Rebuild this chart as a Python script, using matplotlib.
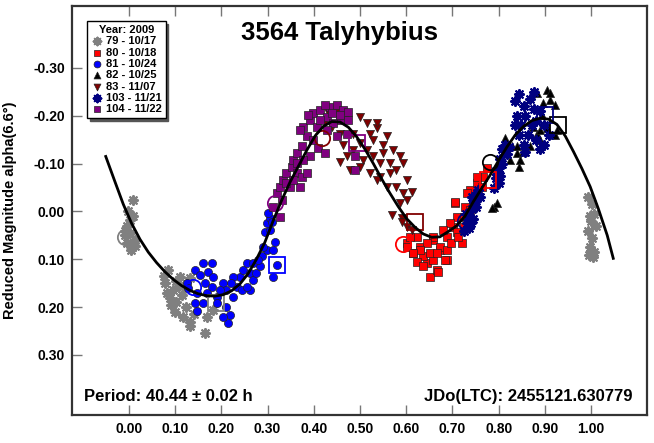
import matplotlib.pyplot as plt

plt.rcParams['font.family'] = ['Liberation Sans', 'DejaVu Sans']
plt.rcParams['font.weight'] = 'bold'

# phase, reduced magnitude
ph79 = [0.009, -0.001, 0.002, -0.003, -0.009, 0.002, 0.013, 0.013, 0.004, -0.008, 0.008, -0.005,
        0.110, 0.096, 0.103, 0.117, 0.132, 0.168, 0.164, 0.183, 0.103, 0.089, 0.078, 0.082,
        0.123, 0.114, 0.100, 0.132, 0.091, 0.076, 0.109, 0.121, 0.141, 0.085, 0.132,
        0.993, 1.002, 0.998, 1.007, 0.993, 1.002, 1.007, 0.998, 1.011, 0.996, 1.005, 1.000]
mag79 = [-0.025, 0.000, 0.017, 0.030, 0.040, 0.045, 0.060, 0.072, 0.080, 0.050, 0.010, 0.065,
         0.138, 0.164, 0.190, 0.220, 0.232, 0.220, 0.255, 0.207, 0.145, 0.180, 0.150, 0.170,
         0.200, 0.175, 0.210, 0.240, 0.195, 0.135, 0.155, 0.160, 0.215, 0.123, 0.140,
         -0.030, -0.015, 0.010, 0.005, 0.040, 0.055, 0.085, 0.075, 0.030, 0.090, 0.095, 0.020]

ph80 = [0.601, 0.615, 0.630, 0.644, 0.652, 0.666, 0.688, 0.673, 0.658, 0.688, 0.701, 0.709,
        0.706, 0.623, 0.608, 0.636, 0.601, 0.623, 0.669, 0.684, 0.720, 0.709, 0.706, 0.724,
        0.738, 0.753, 0.766, 0.774, 0.731, 0.745, 0.695, 0.680, 0.659, 0.644, 0.630, 0.615,
        0.673, 0.659, 0.637, 0.688, 0.698, 0.713, 0.724, 0.727, 0.738, 0.756, 0.763, 0.753,
        0.652, 0.666]
mag80 = [0.066, 0.087, 0.074, 0.108, 0.136, 0.122, 0.101, 0.080, 0.060, 0.053, 0.032, 0.011,
         -0.018, 0.053, 0.053, 0.094, 0.074, 0.105, 0.126, 0.101, 0.066, 0.042, -0.020, 0.011,
         -0.045, -0.059, -0.073, -0.090, -0.038, -0.024, 0.025, 0.039, 0.053, 0.066, 0.080, 0.087,
         0.074, 0.101, 0.115, 0.080, 0.066, 0.053, 0.032, -0.010, -0.003, -0.038, -0.052, -0.073,
         0.087, 0.087]

ph81 = [0.143, 0.154, 0.172, 0.182, 0.165, 0.179, 0.147, 0.143, 0.147, 0.161, 0.190, 0.204,
        0.211, 0.190, 0.211, 0.219, 0.215, 0.226, 0.233, 0.240, 0.247, 0.255, 0.262, 0.269,
        0.244, 0.262, 0.276, 0.284, 0.287, 0.298, 0.312, 0.291, 0.316, 0.294, 0.305, 0.298,
        0.305, 0.302, 0.309, 0.312, 0.179, 0.161, 0.125, 0.128, 0.197, 0.168, 0.226, 0.222,
        0.255, 0.269, 0.280, 0.204, 0.320]
mag81 = [0.122, 0.133, 0.126, 0.136, 0.150, 0.157, 0.171, 0.192, 0.209, 0.192, 0.178, 0.150,
         0.164, 0.192, 0.199, 0.216, 0.234, 0.178, 0.157, 0.136, 0.122, 0.108, 0.129, 0.143,
         0.164, 0.164, 0.129, 0.115, 0.094, 0.080, 0.080, 0.074, 0.063, 0.042, 0.039, 0.025,
         0.014, 0.004, 0.021, 0.136, 0.108, 0.108, 0.150, 0.161, 0.164, 0.171, 0.136, 0.150,
         0.157, 0.108, 0.101, 0.220, 0.112]

ph82 = [0.789, 0.796, 0.785, 0.814, 0.828, 0.839, 0.846, 0.843, 0.853, 0.868, 0.882, 0.890,
        0.875, 0.882, 0.904, 0.911, 0.922, 0.897, 0.911, 0.904, 0.922, 0.926, 0.890, 0.893,
        0.839, 0.825]
mag82 = [-0.010, -0.017, -0.007, -0.153, -0.136, -0.122, -0.108, -0.094, -0.125, -0.136, -0.163, -0.170,
         -0.177, -0.247, -0.254, -0.233, -0.223, -0.226, -0.247, -0.174, -0.160, -0.170, -0.149, -0.202,
         -0.136, -0.108]

ph83 = [0.428, 0.450, 0.471, 0.500, 0.515, 0.536, 0.558, 0.550, 0.572, 0.587, 0.594, 0.565,
        0.543, 0.529, 0.515, 0.500, 0.471, 0.457, 0.478, 0.500, 0.522, 0.543, 0.565, 0.579,
        0.601, 0.579, 0.558, 0.536, 0.594, 0.612, 0.601, 0.587, 0.569, 0.590, 0.601, 0.612,
        0.522, 0.529, 0.439, 0.457, 0.464, 0.485, 0.485, 0.424, 0.507, 0.550, 0.536, 0.590]
mag83 = [-0.212, -0.212, -0.202, -0.198, -0.184, -0.174, -0.157, -0.139, -0.129, -0.115, -0.101, -0.101,
         -0.101, -0.115, -0.129, -0.143, -0.115, -0.104, -0.087, -0.094, -0.080, -0.073, -0.080, -0.087,
         -0.066, -0.052, -0.052, -0.066, -0.038, -0.041, -0.024, -0.017, 0.007, 0.014, 0.032, 0.039,
         -0.163, -0.149, -0.177, -0.163, -0.139, -0.129, -0.163, -0.188, -0.108, -0.122, -0.184, 0.021]

ph103 = [0.726, 0.731, 0.736, 0.742, 0.747, 0.753, 0.756, 0.735, 0.745, 0.751, 0.729, 0.740, 0.760, 0.742,
         0.790, 0.795, 0.800, 0.804, 0.808, 0.813, 0.800, 0.808, 0.818, 0.795, 0.804, 0.822,
         0.836, 0.845, 0.854, 0.840, 0.849, 0.858, 0.867, 0.876, 0.881, 0.890, 0.863, 0.854,
         0.845, 0.872, 0.899, 0.908, 0.899, 0.881, 0.836, 0.890, 0.858, 0.876]
mag103 = [0.040, 0.025, 0.010, -0.005, -0.020, -0.035, -0.045, 0.035, 0.015, -0.010, 0.005, 0.025, -0.030, -0.030,
          -0.050, -0.070, -0.090, -0.110, -0.130, -0.140, -0.060, -0.100, -0.120, -0.085, -0.075, -0.135,
          -0.230, -0.245, -0.220, -0.200, -0.180, -0.200, -0.235, -0.215, -0.190, -0.210, -0.160, -0.140,
          -0.160, -0.180, -0.180, -0.160, -0.140, -0.150, -0.180, -0.130, -0.125, -0.250]

ph104 = [0.327, 0.320, 0.327, 0.334, 0.341, 0.352, 0.363, 0.374, 0.370, 0.348, 0.356, 0.363,
         0.374, 0.385, 0.377, 0.392, 0.399, 0.413, 0.428, 0.435, 0.450, 0.464, 0.475, 0.457,
         0.442, 0.406, 0.399, 0.410, 0.424, 0.450, 0.471, 0.489, 0.489, 0.392, 0.377, 0.363,
         0.341, 0.331, 0.356, 0.370, 0.388, 0.424, 0.439, 0.457, 0.475, 0.413, 0.428, 0.385, 0.312]
mag104 = [0.011, -0.038, -0.052, -0.066, -0.080, -0.094, -0.080, -0.073, -0.052, -0.052, -0.108, -0.122,
          -0.136, -0.157, -0.177, -0.191, -0.205, -0.212, -0.198, -0.219, -0.223, -0.212, -0.209, -0.191,
          -0.184, -0.177, -0.149, -0.132, -0.122, -0.157, -0.163, -0.115, -0.087, -0.115, -0.108, -0.101,
          -0.059, -0.024, -0.066, -0.170, -0.202, -0.223, -0.205, -0.202, -0.191, -0.191, -0.170, -0.080, -0.010]

# first / last point of each session (open circle / open square)
start_ph = [-0.009, 0.593, 0.139, 0.781, 0.417, 0.727, 0.316]
start_mag = [0.053, 0.067, 0.157, -0.104, -0.153, 0.020, -0.017]
end_ph = [0.188, 0.777, 0.320, 0.929, 0.619, 0.901, 0.493]
end_mag = [0.191, -0.066, 0.112, -0.181, 0.021, -0.202, -0.143]

fit_ph = [-0.050, -0.030, -0.012, 0.006, 0.024, 0.042, 0.060, 0.078, 0.096, 0.114, 0.132, 0.150,
          0.168, 0.186, 0.204, 0.222, 0.240, 0.258, 0.276, 0.294, 0.312, 0.330, 0.348, 0.367,
          0.385, 0.403, 0.421, 0.439, 0.457, 0.475, 0.493, 0.511, 0.529, 0.547, 0.565, 0.583,
          0.601, 0.619, 0.637, 0.655, 0.673, 0.691, 0.709, 0.727, 0.745, 0.763, 0.781, 0.799,
          0.818, 0.836, 0.854, 0.872, 0.890, 0.908, 0.926, 0.944, 0.962, 0.980, 0.998, 1.016,
          1.035, 1.048]
fit_mag = [-0.115, -0.062, -0.015, 0.025, 0.058, 0.085, 0.107, 0.126, 0.142, 0.155, 0.165, 0.172,
           0.176, 0.177, 0.174, 0.166, 0.152, 0.130, 0.100, 0.065, 0.020, -0.022, -0.060, -0.095,
           -0.128, -0.158, -0.178, -0.188, -0.187, -0.176, -0.156, -0.130, -0.100, -0.068, -0.038, -0.010,
           0.015, 0.033, 0.047, 0.054, 0.053, 0.042, 0.030, 0.010, -0.020, -0.048, -0.075, -0.105,
           -0.135, -0.160, -0.178, -0.190, -0.195, -0.193, -0.182, -0.158, -0.125, -0.090, -0.052, -0.005,
           0.050, 0.098]

labels = ['79 - 10/17', '80 - 10/18', '81 - 10/24', '82 - 10/25', '83 - 11/07', '103 - 11/21', '104 - 11/22']
phases = [ph79, ph80, ph81, ph82, ph83, ph103, ph104]
mags = [mag79, mag80, mag81, mag82, mag83, mag103, mag104]
xticks = [0.0, 0.1, 0.2, 0.3, 0.4, 0.5, 0.6, 0.7, 0.8, 0.9, 1.0]
yticks = [-0.3, -0.2, -0.1, 0.0, 0.1, 0.2, 0.3]

colors = ['#808080', '#ff0000', '#0000ff', '#000000', '#800000', '#000080', '#800080']
markers = [(8, 2, 0), 's', 'o', '^', 'v', (8, 2, 0), 's']

fig = plt.figure(figsize=(6.54, 4.43), dpi=100)
ax = fig.add_axes([0.1101, 0.0632, 0.8792, 0.9233])

for i in range(len(labels)):
    if markers[i] == (8, 2, 0):
        ax.scatter(phases[i], mags[i], s=42, marker=markers[i], color=colors[i],
                   linewidths=1.5, label=labels[i], zorder=2 + i)
    else:
        ax.scatter(phases[i], mags[i], s=34, marker=markers[i], facecolor=colors[i],
                   edgecolors='#222222', linewidths=0.5, label=labels[i], zorder=2 + i)
    ax.plot(start_ph[i], start_mag[i], 'o', ms=11, mfc='none', mec=colors[i], mew=1.3, zorder=10)
    ax.plot(end_ph[i], end_mag[i], 's', ms=11, mfc='none', mec=colors[i], mew=1.3, zorder=10)

ax.plot(fit_ph, fit_mag, color='black', lw=2, zorder=20)

ax.set_xlim(-0.123, 1.121)
ax.set_ylim(0.4255, -0.4296)
ax.set_xticks(xticks)
ax.set_xticklabels(['%.2f' % v for v in xticks])
ax.set_yticks(yticks)
ax.set_yticklabels(['%.2f' % v for v in yticks])
ax.tick_params(direction='in', length=7, width=1, color='#777777', labelsize=10,
               top=True, right=False, pad=5)
for s in ax.spines.values():
    s.set_linewidth(1.6)
    s.set_color('#333333')

ax.set_ylabel('Reduced Magnitude alpha(6.6°)', fontsize=10.5, fontweight='bold')
ax.yaxis.set_label_coords(-0.096, 0.5)

ax.text(0.466, 0.934, '3564 Talyhybius', transform=ax.transAxes, ha='center', va='center',
        fontsize=18.5, fontweight='bold')
ax.text(0.021, 0.046, 'Period: 40.44 ± 0.02 h', transform=ax.transAxes, ha='left', va='center',
        fontsize=12, fontweight='bold')
ax.text(0.974, 0.046, 'JDo(LTC): 2455121.630779', transform=ax.transAxes, ha='right', va='center',
        fontsize=12, fontweight='bold')

leg = ax.legend(loc='upper left', bbox_to_anchor=(0.026, 0.963), title='Year: 2009',
                fontsize=8, title_fontsize=8, frameon=True, fancybox=False,
                shadow={'color': '#555555', 'alpha': 1}, edgecolor='black',
                labelspacing=0.12, handletextpad=0.25, handlelength=1.1, borderpad=0.35,
                borderaxespad=0, markerscale=0.85)
leg.get_frame().set_linewidth(1)
leg.get_title().set_fontweight('bold')
leg.set_zorder(30)

fig.savefig('out.png', dpi=100)
